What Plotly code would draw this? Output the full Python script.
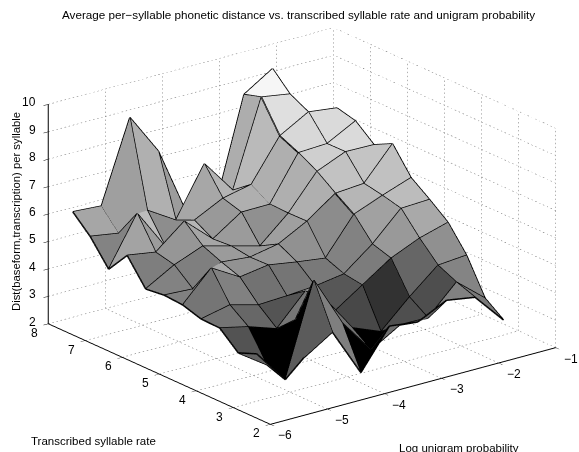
import numpy as np
import plotly.graph_objects as go

nan = float("nan")
log_prob = [-5.59, -5.09, -4.59, -4.09, -3.59, -3.09, -2.59, -2.09, -1.59]
syll_rate = [7.97, 7.5, 7.0, 6.5, 6.0, 5.5, 5.0, 4.5, 4.0, 3.5, 3.0, 2.5]
dist = [
    [5.87, 5.80, 8.75, 7.24, 4.68, 4.69, 8.47, 9.13, nan],
    [5.26, 5.09, 5.65, 5.01, 6.79, 5.54, 8.66, 8.49, nan],
    [4.37, 6.12, 4.61, 5.31, 5.83, 6.06, 7.55, 8.14, 8.01],
    [5.18, 5.01, 5.86, 4.93, 5.63, 5.64, 7.24, 7.29, 7.84],
    [4.26, 4.85, 5.26, 4.98, 4.70, 5.62, 6.86, 7.30, 7.28],
    [4.34, 4.28, 4.98, 4.88, 5.08, 5.63, 6.37, 6.45, 7.62],
    [4.29, 5.35, 4.74, 4.90, 4.73, 4.59, 5.91, 6.32, 6.69],
    [4.08, 4.31, 4.03, 4.08, 4.16, 4.32, 5.13, 6.15, 6.20],
    [4.06, 3.82, 3.47, 4.56, 3.52, 4.22, 4.92, 5.37, 5.67],
    [3.46, 2.75, 4.10, 4.62, 3.25, 2.83, 3.81, 4.69, 4.78],
    [3.73, 2.51, 5.85, 4.01, 2.76, 3.38, 3.36, 4.38, 3.52],
    [nan, 3.61, 4.27, 2.51, 3.93, 3.80, 4.31, 4.14, 3.03],
]
x_ticks = [-6, -5, -4, -3, -2, -1]
y_ticks = [2, 3, 4, 5, 6, 7, 8]
z_ticks = [2, 3, 4, 5, 6, 7, 8, 9, 10]
title = "Average per\u2212syllable phonetic distance vs. transcribed syllable rate and unigram probability"
x_title = "Log unigram probability"
y_title = "Transcribed syllable rate"
z_title = "Dist(baseform,transcription) per syllable"
gray_z = [2.4, 2.77, 2.83, 4.32, 5.25, 7.29, 8.65]
gray_v = [0, 0, 50, 130, 166, 218, 246]

Z = np.array(dist, dtype=float)
ny, nx = Z.shape

idx = -np.ones(Z.shape, dtype=int)
vx, vy, vz = [], [], []
for j in range(ny):
    for i in range(nx):
        if not np.isnan(Z[j, i]):
            idx[j, i] = len(vx)
            vx.append(log_prob[i]); vy.append(syll_rate[j]); vz.append(Z[j, i])

ti, tj, tk, fc = [], [], [], []
lx, ly, lz = [], [], []


def seg(a, b):
    lx.extend([log_prob[a[1]], log_prob[b[1]], None])
    ly.extend([syll_rate[a[0]], syll_rate[b[0]], None])
    lz.extend([Z[a], Z[b], None])


for j in range(ny):
    for i in range(nx):
        if np.isnan(Z[j, i]):
            continue
        if i + 1 < nx and not np.isnan(Z[j, i + 1]):
            seg((j, i), (j, i + 1))
        if j + 1 < ny and not np.isnan(Z[j + 1, i]):
            seg((j, i), (j + 1, i))
        if i + 1 < nx and j + 1 < ny:
            q = [Z[j, i + 1], Z[j + 1, i], Z[j + 1, i + 1]]
            if np.isnan(q).any():
                continue
            g = int(np.interp(Z[j + 1, i], gray_z, gray_v))
            col = f"rgb({g},{g},{g})"
            ti += [idx[j, i], idx[j, i + 1]]
            tj += [idx[j, i + 1], idx[j + 1, i + 1]]
            tk += [idx[j + 1, i], idx[j + 1, i]]
            fc += [col, col]

# dotted grid on the floor and two back walls, each dot a very short segment
gx, gy, gz = [], [], []


def grid(a, b, n):
    a = np.array(a, float); b = np.array(b, float)
    for t in np.arange(n) / n:
        p = a + (b - a) * t
        e = a + (b - a) * (t + 0.35 / n)
        gx.extend([p[0], e[0], None]); gy.extend([p[1], e[1], None]); gz.extend([p[2], e[2], None])


x0, x1, y0, y1, z0, z1 = x_ticks[0], x_ticks[-1], y_ticks[0], y_ticks[-1], z_ticks[0], z_ticks[-1]
for v in x_ticks:
    grid((v, y0, z0), (v, y1, z0), 58)
    grid((v, y1, z0), (v, y1, z1), 55)
for v in y_ticks:
    grid((x0, v, z0), (x1, v, z0), 70)
    grid((x1, v, z0), (x1, v, z1), 55)
for v in z_ticks:
    grid((x0, y1, v), (x1, y1, v), 70)
    grid((x1, y0, v), (x1, y1, v), 58)

fig = go.Figure()
fig.add_trace(go.Scatter3d(x=gx, y=gy, z=gz, mode="lines", hoverinfo="skip",
                           line=dict(color="#666666", width=1), showlegend=False))
fig.add_trace(go.Mesh3d(x=vx, y=vy, z=vz, i=ti, j=tj, k=tk, facecolor=fc, flatshading=True,
                        lighting=dict(ambient=1, diffuse=0, specular=0, roughness=1, fresnel=0),
                        hoverinfo="skip", showscale=False))
fig.add_trace(go.Scatter3d(x=lx, y=ly, z=lz, mode="lines", hoverinfo="skip",
                           line=dict(color="black", width=3), showlegend=False))

FAM = "Liberation Sans, Arial, sans-serif"
font = dict(family=FAM, size=12, color="black")


def axis(vals, rng):
    return dict(range=rng, autorange=False, tickmode="array", tickvals=vals,
                showticklabels=False,
                showgrid=False, zeroline=False, showbackground=False, showspikes=False,
                showline=True, linecolor="black", linewidth=2, ticks="outside", ticklen=6,
                tickcolor="black", tickwidth=1, title=dict(text=""))


def label(v, x, y, z, xshift, yshift, xanchor="center"):
    return dict(x=x, y=y, z=z, text=str(v).replace("-", "\u2212"), showarrow=False, font=font,
                xanchor=xanchor, yanchor="middle", xshift=xshift, yshift=yshift)


tick_labels = (
    [label(v, x0, y1, v, -10, 2, "right") for v in z_ticks]
    + [label(v, x0, v, z0, -14, -9) for v in y_ticks]
    + [label(v, v, y0, z0, 15, -11) for v in x_ticks]
)

eye = np.array([-0.5716, -0.742, 0.3486])


def note(text, x, y, size=11.5, angle=0):
    return dict(text=text, x=x / 579, y=1 - y / 452, xref="paper", yref="paper", showarrow=False,
                xanchor="center", yanchor="middle", textangle=angle, font=dict(family=FAM, size=size, color="black"))


fig.update_layout(
    width=579, height=452, margin=dict(l=0, r=0, t=0, b=0), paper_bgcolor="white",
    showlegend=False,
    scene=dict(
        domain=dict(x=[0.0432, 1.0], y=[0.0, 1.0]),
        xaxis=axis(x_ticks, [x0, x1]), yaxis=axis(y_ticks, [y0, y1]), zaxis=axis(z_ticks, [z0, z1]),
        aspectmode="manual", aspectratio=dict(x=1.594, y=1.61, z=1.036),
        camera=dict(eye=dict(x=eye[0], y=eye[1], z=eye[2]), center=dict(x=0, y=0, z=0), up=dict(x=0, y=0, z=1),
                    projection=dict(type="orthographic")),
        annotations=tick_labels,
    ),
    annotations=[
        note(title, 298, 14, 11.7),
        note(y_title, 93, 441),
        note(x_title, 459, 448),
        note(z_title, 16, 212, 11.3, -90),
    ],
)
fig.write_html("out.html", post_script="document.body.style.margin='0';", config={"displayModeBar": False})
